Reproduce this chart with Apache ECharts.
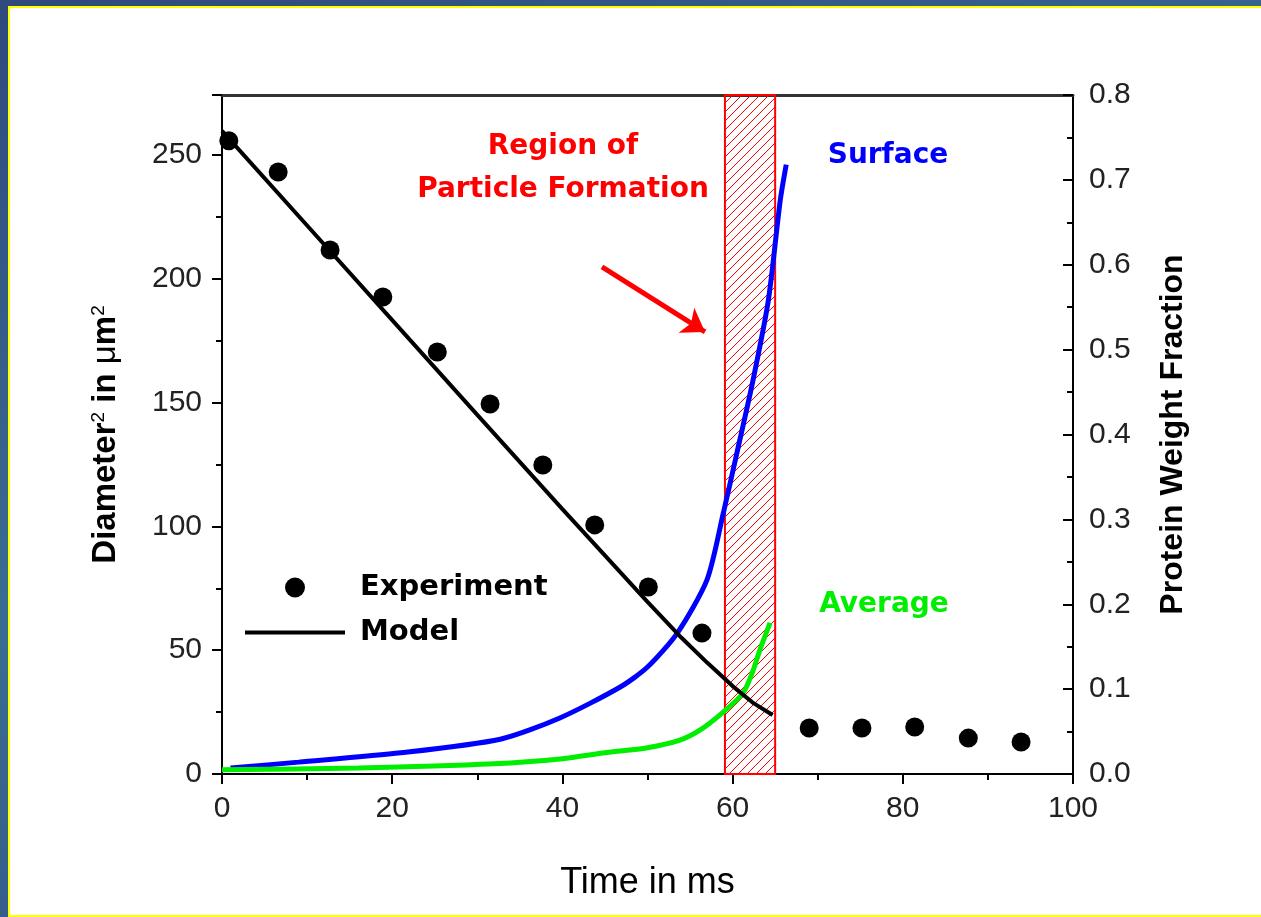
<!DOCTYPE html>
<html>
<head>
<meta charset="utf-8">
<title>Diameter squared and protein weight fraction</title>
<script src="https://cdn.jsdelivr.net/npm/echarts@6/dist/echarts.min.js"></script>
<style>
html, body { margin: 0; padding: 0; width: 1261px; height: 917px; overflow: hidden; }
body { background: linear-gradient(160deg, #2f4a7b 0%, #3a6c93 45%, #2d4a7c 100%); }
#panel { position: absolute; left: 8px; top: 6px; width: 1262px; height: 911px; box-sizing: border-box; border: 2px solid #ffff00; background: #fff; }
#chartMain { position: absolute; left: 0; top: 0; width: 1261px; height: 917px; }
</style>
</head>
<body>
<div id="panel"></div>
<div id="chartMain"></div>
<script>
// experiment: time (ms) / diameter^2 (um^2)
var expTime = [0.8, 6.6, 12.7, 18.9, 25.3, 31.5, 37.7, 43.8, 50.1, 56.4, 69.0, 75.2, 81.4, 87.7, 93.9];
var expDiam = [255.7, 243.1, 211.6, 192.6, 170.4, 149.4, 124.8, 100.6, 75.5, 56.9, 18.6, 18.6, 19.0, 14.5, 12.9];

// model line
var modelTime = [0, 10, 20, 30, 40, 50, 54, 57, 60, 62.5, 64.7];
var modelDiam = [259.7, 221.5, 183.3, 145, 107, 69.5, 55, 45, 35.5, 28.5, 23.8];

// protein weight fraction, surface and average (right axis)
var surfTime = [1, 9, 21, 32.7, 39.7, 46.8, 50, 53.5, 57, 58.9, 60.5, 62.4, 64.2, 65.6, 66.3];
var surfFrac = [0.007, 0.014, 0.025, 0.041, 0.066, 0.1025, 0.126, 0.166, 0.229, 0.307, 0.378, 0.464, 0.558, 0.676, 0.718];
var avgTime = [0, 16, 32, 40, 45, 50, 53.8, 56.2, 58.9, 61.2, 62.3, 63.2, 64.4];
var avgFrac = [0.005, 0.007, 0.012, 0.018, 0.025, 0.031, 0.040, 0.052, 0.073, 0.095, 0.119, 0.146, 0.178];

// region of particle formation (time range)
var regionTime = [59.1, 65.0];

// arrow start / end (time, diameter^2)
var arrowFrom = [44.65, 204.8];
var arrowTo = [56.76, 178.5];

var diamMax = 274.2;

function zip(a, b) {
    var out = [];
    for (var i = 0; i < a.length; i++) {
        out.push([a[i], b[i]]);
    }
    return out;
}

// red diagonal hatch
function makeHatch() {
    var c = document.createElement('canvas');
    c.width = 9;
    c.height = 9;
    var ctx = c.getContext('2d');
    ctx.strokeStyle = '#ff0000';
    ctx.lineWidth = 1;
    ctx.beginPath();
    ctx.moveTo(-1, 10);
    ctx.lineTo(10, -1);
    ctx.stroke();
    return c;
}
var hatch = makeHatch();

var tickFont = 'Liberation Sans';
var boldFont = 'DejaVu Sans';

var option = {
    backgroundColor: 'transparent',
    animation: false,
    grid: { left: 222, right: 188, top: 95, bottom: 143 },
    legend: {
        data: [
            { name: 'Experiment', icon: 'circle' },
            { name: 'Model', icon: 'path://M0,0L100,0L100,4L0,4Z' }
        ],
        orient: 'vertical',
        left: 240,
        top: 568,
        itemWidth: 100,
        itemHeight: 20,
        itemGap: 16,
        selectedMode: false,
        textStyle: { fontFamily: boldFont, fontWeight: 'bold', fontSize: 29, color: '#000', padding: [0, 0, 0, 10] }
    },
    xAxis: [
        {
            type: 'value', min: 0, max: 100, interval: 20, position: 'bottom',
            name: 'Time in ms', nameLocation: 'middle', nameGap: 91,
            nameTextStyle: { fontFamily: tickFont, fontSize: 36, color: '#000' },
            axisLine: { onZero: false, lineStyle: { color: '#000', width: 2 } },
            axisTick: { length: 10, lineStyle: { color: '#000', width: 2 } },
            minorTick: { show: true, splitNumber: 2, length: 6, lineStyle: { color: '#000', width: 2 } },
            axisLabel: { fontFamily: tickFont, fontSize: 30, color: '#222', margin: 20 },
            splitLine: { show: false }
        },
        {
            type: 'value', min: 0, max: 100, position: 'top',
            axisLine: { onZero: false, lineStyle: { color: '#333', width: 3 } },
            axisTick: { show: false }, axisLabel: { show: false }, splitLine: { show: false }
        }
    ],
    yAxis: [
        {
            type: 'value', min: 0, max: diamMax, interval: 50, position: 'left',
            name: '{a|Diameter}{s|2}{a| in }{m|μ}{a|m}{s|2}',
            nameLocation: 'middle', nameGap: 100, nameRotate: 90,
            nameTextStyle: {
                rich: {
                    a: { fontFamily: 'Liberation Sans', fontWeight: 'bold', fontSize: 33, color: '#000' },
                    m: { fontFamily: 'Liberation Sans', fontSize: 33, color: '#000' },
                    s: { fontFamily: 'Liberation Sans', fontSize: 19, color: '#000', verticalAlign: 'top' }
                }
            },
            axisLine: { onZero: false, lineStyle: { color: '#000', width: 2 } },
            axisTick: { length: 10, lineStyle: { color: '#000', width: 2 } },
            minorTick: { show: true, splitNumber: 2, length: 6, lineStyle: { color: '#000', width: 2 } },
            axisLabel: { fontFamily: tickFont, fontSize: 30, color: '#222', margin: 20, showMaxLabel: false },
            splitLine: { show: false }
        },
        {
            type: 'value', min: 0, max: 0.8, interval: 0.1, position: 'right', alignTicks: false,
            name: 'Protein Weight Fraction', nameLocation: 'middle', nameGap: 84, nameRotate: 90,
            nameTextStyle: { fontFamily: 'Liberation Sans', fontWeight: 'bold', fontSize: 32, color: '#000' },
            axisLine: { onZero: false, lineStyle: { color: '#000', width: 2 } },
            axisTick: { inside: true, length: 10, lineStyle: { color: '#000', width: 2 } },
            minorTick: { show: true, splitNumber: 2, length: 6, lineStyle: { color: '#000', width: 2 } },
            axisLabel: {
                fontFamily: tickFont, fontSize: 30, color: '#222', margin: 16,
                formatter: function (v) { return v.toFixed(1); }
            },
            splitLine: { show: false }
        }
    ],
    graphic: [
        { type: 'text', x: 563, y: 147, style: { text: 'Region of', fill: '#ff0000', font: 'bold 28px "DejaVu Sans"', textAlign: 'center', textVerticalAlign: 'middle' } },
        { type: 'text', x: 563, y: 190, style: { text: 'Particle Formation', fill: '#ff0000', font: 'bold 28px "DejaVu Sans"', textAlign: 'center', textVerticalAlign: 'middle' } },
        { type: 'text', x: 888, y: 156, style: { text: 'Surface', fill: '#0000ff', font: 'bold 28px "DejaVu Sans"', textAlign: 'center', textVerticalAlign: 'middle' } },
        { type: 'text', x: 884, y: 605, style: { text: 'Average', fill: '#00ee00', font: 'bold 28px "DejaVu Sans"', textAlign: 'center', textVerticalAlign: 'middle' } }
    ],
    series: [
        {
            name: 'Region',
            type: 'custom',
            xAxisIndex: 0, yAxisIndex: 0,
            z: 1,
            silent: true,
            encode: { x: [0, 1] },
            data: [[regionTime[0], regionTime[1]]],
            renderItem: function (params, api) {
                var p0 = api.coord([api.value(0), diamMax]);
                var p1 = api.coord([api.value(1), 0]);
                return {
                    type: 'rect',
                    shape: { x: p0[0], y: p0[1], width: p1[0] - p0[0], height: p1[1] - p0[1] },
                    style: { fill: { type: 'pattern', image: hatch, repeat: 'repeat' }, stroke: '#ff0000', lineWidth: 2 }
                };
            }
        },
        {
            name: 'Surface',
            type: 'line',
            xAxisIndex: 0, yAxisIndex: 1,
            data: zip(surfTime, surfFrac),
            symbol: 'none',
            smooth: 0.25,
            lineStyle: { color: '#0000ff', width: 5 },
            z: 3
        },
        {
            name: 'Average',
            type: 'line',
            xAxisIndex: 0, yAxisIndex: 1,
            data: zip(avgTime, avgFrac),
            symbol: 'none',
            smooth: 0.25,
            lineStyle: { color: '#00ee00', width: 5 },
            z: 3
        },
        {
            name: 'Model',
            type: 'line',
            xAxisIndex: 0, yAxisIndex: 0,
            data: zip(modelTime, modelDiam),
            symbol: 'none',
            itemStyle: { color: '#000' },
            lineStyle: { color: '#000', width: 4 },
            z: 4,
            markLine: {
                silent: true,
                symbol: ['none', 'arrow'],
                symbolSize: 22,
                label: { show: false },
                emphasis: { disabled: true },
                lineStyle: { color: '#ff0000', width: 5, type: 'solid' },
                itemStyle: { color: '#ff0000' },
                data: [[{ coord: arrowFrom }, { coord: arrowTo }]]
            }
        },
        {
            name: 'Experiment',
            type: 'scatter',
            xAxisIndex: 0, yAxisIndex: 0,
            data: zip(expTime, expDiam),
            symbol: 'circle',
            symbolSize: 19,
            itemStyle: { color: '#000', opacity: 1 },
            z: 5
        }
    ]
};

var mychart = echarts.init(document.getElementById('chartMain'));
mychart.setOption(option);
</script>
</body>
</html>
